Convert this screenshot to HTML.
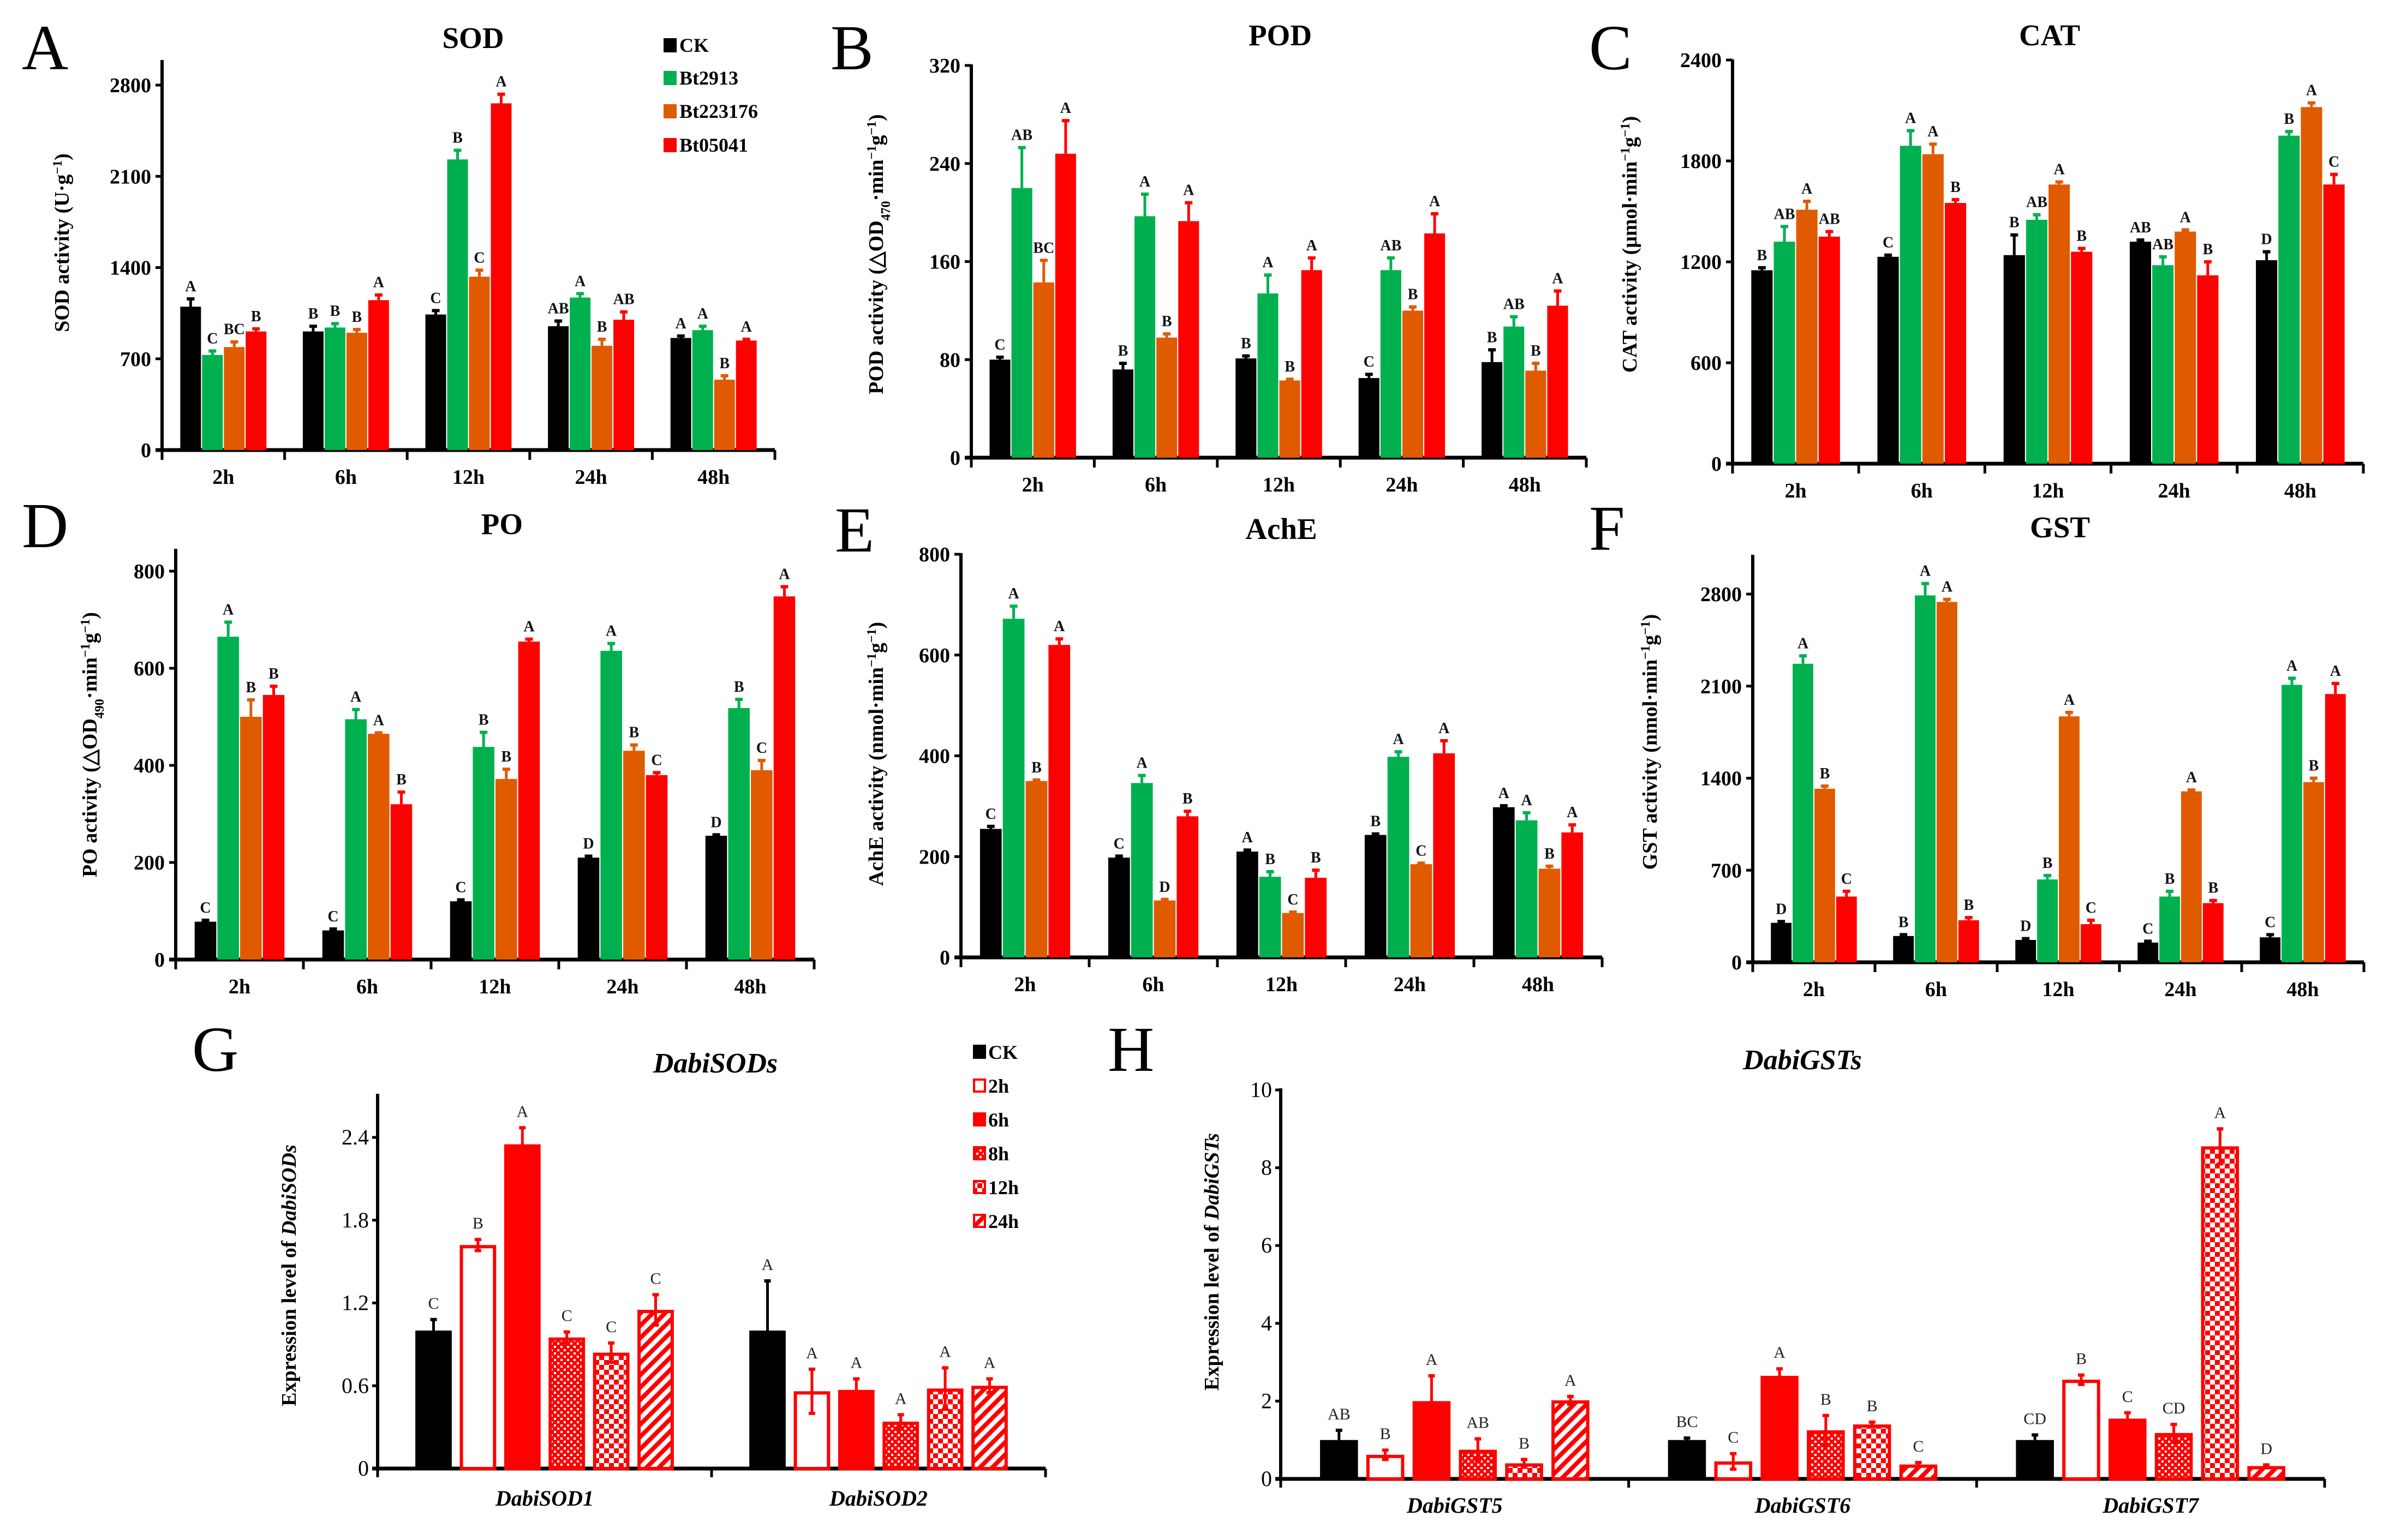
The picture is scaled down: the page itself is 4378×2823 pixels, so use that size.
<!DOCTYPE html>
<html><head><meta charset="utf-8"><style>
html,body{margin:0;padding:0;background:#fff;}
svg{display:block;}
text{font-family:"Liberation Serif",serif;font-weight:bold;}
</style></head><body>
<svg id="fig" width="4378" height="2823" viewBox="0 0 4378 2823" xmlns="http://www.w3.org/2000/svg">
<defs>
<pattern id="pDots" width="12" height="12" patternUnits="userSpaceOnUse"><rect width="12" height="12" fill="#f00"/><rect x="1" y="1" width="4" height="4" fill="#fff"/><rect x="7" y="7" width="4" height="4" fill="#fff"/></pattern>
<pattern id="pCheck" width="18" height="18" patternUnits="userSpaceOnUse"><rect width="18" height="18" fill="#fff"/><rect width="9" height="9" fill="#f00"/><rect x="9" y="9" width="9" height="9" fill="#f00"/></pattern>
<pattern id="pStripe" width="16" height="16" patternUnits="userSpaceOnUse" patternTransform="rotate(45)"><rect width="16" height="16" fill="#fff"/><rect width="8" height="16" fill="#f00"/></pattern>
</defs>
</svg>
<script>
// ---- Data arrays (top level) ----
const timeCats = ["2h","6h","12h","24h","48h"];
const strainNames = ["CK","Bt2913","Bt223176","Bt05041"];
const sodVals = [[1100,730,790,910],[910,940,900,1150],[1040,2230,1330,2660],[950,1170,800,1000],[860,920,540,840]];
const sodErr = [[60,30,40,20],[40,30,25,40],[30,70,50,70],[40,30,50,60],[15,30,30,10]];
const sodLet = [["A","C","BC","B"],["B","B","B","A"],["C","B","C","A"],["AB","A","B","AB"],["A","A","B","A"]];
const sodTicks = [0,700,1400,2100,2800];
const podVals = [[80,220,143,248],[72,197,98,193],[81,134,63,153],[65,153,120,183],[78,107,71,124]];
const podErr = [[2,33,18,27],[5,18,3,15],[2,15,1,10],[3,10,3,16],[10,8,6,12]];
const podLet = [["C","AB","BC","A"],["B","A","B","A"],["B","A","B","A"],["C","AB","B","A"],["B","AB","B","A"]];
const podTicks = [0,80,160,240,320];
const catVals = [[1150,1320,1510,1350],[1230,1890,1840,1550],[1240,1450,1660,1260],[1320,1180,1380,1120],[1210,1950,2120,1660]];
const catErr = [[15,90,50,30],[10,90,60,20],[120,30,15,20],[10,50,10,80],[50,25,25,60]];
const catLet = [["B","AB","A","AB"],["C","A","A","B"],["B","AB","A","B"],["AB","AB","A","B"],["D","B","A","C"]];
const catTicks = [0,600,1200,1800,2400];
const poVals = [[78,665,500,545],[60,495,465,320],[120,438,372,655],[210,636,430,380],[255,518,390,748]];
const poErr = [[3,30,35,18],[3,20,2,25],[3,30,20,5],[3,15,12,5],[2,18,20,20]];
const poLet = [["C","A","B","B"],["C","A","A","B"],["C","B","B","A"],["D","A","B","C"],["D","B","C","A"]];
const poTicks = [0,200,400,600,800];
const acheVals = [[255,672,350,620],[198,346,113,280],[210,160,88,158],[243,398,185,405],[298,272,176,248]];
const acheErr = [[5,25,2,12],[3,15,2,10],[3,10,2,15],[2,10,2,25],[3,15,5,15]];
const acheLet = [["C","A","B","A"],["C","A","D","B"],["A","B","C","B"],["B","A","C","A"],["A","A","B","A"]];
const acheTicks = [0,200,400,600,800];
const gstVals = [[300,2270,1320,500],[200,2790,2740,320],[170,630,1870,290],[150,500,1300,450],[190,2110,1370,2040]];
const gstErr = [[10,60,20,40],[10,90,20,20],[10,30,30,30],[10,40,10,20],[20,50,30,80]];
const gstLet = [["D","A","B","C"],["B","A","A","B"],["D","B","A","C"],["C","B","A","B"],["C","A","B","A"]];
const gstTicks = [0,700,1400,2100,2800];
const exprSeries = ["CK","2h","6h","8h","12h","24h"];
const sodGenes = ["DabiSOD1","DabiSOD2"];
const sodExpr = [[1.0,1.62,2.35,0.95,0.84,1.15],[1.0,0.56,0.57,0.34,0.58,0.60]];
const sodExprErr = [[0.08,0.04,0.12,0.04,0.07,0.11],[0.36,0.16,0.08,0.05,0.15,0.05]];
const sodExprLet = [["C","B","A","C","C","C"],["A","A","A","A","A","A"]];
const sodExprTicks = ["0","0.6","1.2","1.8","2.4"];
const gstGenes = ["DabiGST5","DabiGST6","DabiGST7"];
const gstExpr = [[1.0,0.62,2.0,0.75,0.40,2.02],[1.0,0.45,2.65,1.25,1.40,0.37],[1.0,2.55,1.55,1.18,8.55,0.33]];
const gstExprErr = [[0.25,0.12,0.65,0.28,0.10,0.10],[0.05,0.20,0.18,0.38,0.06,0.05],[0.13,0.12,0.15,0.22,0.45,0.03]];
const gstExprLet = [["AB","B","A","AB","B","A"],["BC","C","A","B","B","C"],["CD","B","C","CD","A","D"]];
const gstExprTicks = ["0","2","4","6","8","10"];

const NS="http://www.w3.org/2000/svg";
const svg=document.getElementById('fig');
const strainColors=["#000000","#00b04f","#e05a00","#ff0000"];
const seriesFill=["#000","#fff","#f00","url(#pDots)","url(#pCheck)","url(#pStripe)"];
function mk(tag,attrs,parent){const e=document.createElementNS(NS,tag);for(const k in attrs)e.setAttribute(k,attrs[k]);(parent||svg).appendChild(e);return e;}
function txt(s,attrs,parent){const e=mk('text',attrs,parent);e.textContent=s;return e;}

function panelLetter(ch,x,y){
  const t=txt(ch,{x:x,y:y,'font-size':118,'style':'font-weight:normal'});
  
  
}

function activityChart(o){
  const g=mk('g',{});
  
  
  const max=o.ticks[o.ticks.length-1];
  const yS=v=>o.y0-(v/max)*(o.y0-o.yTop);
  const cw=(o.x1-o.x0)/o.cats.length;
  const ya=mk('line',{x1:o.x0,y1:o.axisTop,x2:o.x0,y2:o.y0+3,stroke:'#000','stroke-width':6},g);
  
  
  const xa=mk('line',{x1:o.x0-12,y1:o.y0,x2:o.x1,y2:o.y0,stroke:'#000','stroke-width':7},g);
  
  
  o.ticks.forEach(t=>{
    const y=yS(t);
    mk('line',{x1:o.x0-12,y1:y,x2:o.x0,y2:y,stroke:'#000','stroke-width':5},g);
    const tl=txt(String(t),{x:o.x0-20,y:y+13,'font-size':38,'text-anchor':'end'},g);
    
    
  });
  for(let i=0;i<=o.cats.length;i++){const x=o.x0+i*cw;mk('line',{x1:x,y1:o.y0,x2:x,y2:o.y0+18,stroke:'#000','stroke-width':5},g);}
  o.cats.forEach((c,i)=>{
    const cx=o.x0+(i+0.5)*cw;
    const xl=txt(c,{x:cx,y:o.y0+62,'font-size':38,'text-anchor':'middle'},g);
    
    
    const p=cw*0.178,bw=p*0.95;
    o.vals[i].forEach((v,j)=>{
      const bx=cx-2*p+j*p+(p-bw)/2;
      const top=yS(v);
      const r=mk('rect',{x:bx,y:top,width:bw,height:o.y0-top,fill:strainColors[j]},g);
      
      
      const ex=bx+bw/2,ey=yS(v+o.err[i][j]);
      mk('line',{x1:ex,y1:top,x2:ex,y2:ey,stroke:strainColors[j],'stroke-width':5},g);
      mk('line',{x1:ex-7,y1:ey,x2:ex+7,y2:ey,stroke:strainColors[j],'stroke-width':6},g);
      const lt=txt(o.lets[i][j],{x:ex,y:ey-14,'font-size':28,'text-anchor':'middle',fill:'#111'},g);
      
      
    });
  });
  const tt=txt(o.title,{x:o.tx,y:o.ty,'font-size':55,'text-anchor':'middle'},g);
  
  
  const yl=mk('text',{transform:`translate(${o.lx},${o.ly}) rotate(-90)`,'font-size':38,'text-anchor':'middle'},g);
  yl.innerHTML=o.ylab;
  
  
}

function exprChart(o){
  const g=mk('g',{});
  
  
  const max=parseFloat(o.ticks[o.ticks.length-1]);
  const yS=v=>o.y0-(v/max)*(o.y0-o.yTop);
  const cw=(o.x1-o.x0)/o.cats.length;
  const ya=mk('line',{x1:o.x0,y1:o.axisTop,x2:o.x0,y2:o.y0+3,stroke:'#000','stroke-width':6},g);
  
  
  const xa=mk('line',{x1:o.x0-10,y1:o.y0,x2:o.x1,y2:o.y0,stroke:'#000','stroke-width':7},g);
  
  
  o.ticks.forEach(t=>{
    const y=yS(parseFloat(t));
    mk('line',{x1:o.x0-10,y1:y,x2:o.x0,y2:y,stroke:'#000','stroke-width':5},g);
    const tl=txt(t,{x:o.x0-16,y:y+13,'font-size':40,'text-anchor':'end',style:'font-weight:normal'},g);
    
    
  });
  for(let i=0;i<=o.cats.length;i++){const x=o.x0+i*cw;mk('line',{x1:x,y1:o.y0,x2:x,y2:o.y0+16,stroke:'#000','stroke-width':5},g);}
  o.cats.forEach((c,i)=>{
    const cx=o.x0+(i+0.5)*cw;
    const xl=txt(c,{x:cx,y:o.y0+o.labOff,'font-size':40,'font-style':'italic','text-anchor':'middle'},g);
    
    
    const p=cw*0.133,bw=p*0.82;
    o.vals[i].forEach((v,j)=>{
      const bx=cx-3*p+j*p+(p-bw)/2;
      const top=yS(v);
      const col=j===0?'#000':'#f00';
      const r=mk('rect',{x:bx+3,y:top+3,width:bw-6,height:o.y0-top-3,fill:seriesFill[j],stroke:col,'stroke-width':6},g);
      
      
      const ex=bx+bw/2,eh=yS(v+o.err[i][j]),el=yS(v-o.err[i][j]);
      mk('line',{x1:ex,y1:el,x2:ex,y2:eh,stroke:col,'stroke-width':5},g);
      mk('line',{x1:ex-6,y1:eh,x2:ex+6,y2:eh,stroke:col,'stroke-width':6},g);
      mk('line',{x1:ex-6,y1:el,x2:ex+6,y2:el,stroke:col,'stroke-width':6},g);
      const lt=txt(o.lets[i][j],{x:ex,y:eh-20,'font-size':30,style:'font-weight:normal','text-anchor':'middle',fill:'#222'},g);
      
      
    });
  });
  const tt=txt(o.title,{x:o.tx,y:o.ty,'font-size':52,'font-style':'italic','text-anchor':'middle'},g);
  
  
  const yl=mk('text',{transform:`translate(${o.lx},${o.ly}) rotate(-90)`,'font-size':38,'text-anchor':'middle'},g);
  yl.innerHTML=o.ylab;
  
  
}

panelLetter('A',40,127);panelLetter('B',1522,127);panelLetter('C',2912,127);
panelLetter('D',40,1003);panelLetter('E',1530,1011);panelLetter('F',2912,1008);
panelLetter('G',352,1963);panelLetter('H',2030,1963);

activityChart({name:'sod',title:'SOD',cats:timeCats,vals:sodVals,err:sodErr,lets:sodLet,ticks:sodTicks,x0:297,x1:1420,y0:825,yTop:156,axisTop:110,tx:867,ty:88,lx:126,ly:445,ylab:'SOD activity (U·g<tspan baseline-shift="super" font-size="24">−1</tspan>)'});
activityChart({name:'pod',title:'POD',cats:timeCats,vals:podVals,err:podErr,lets:podLet,ticks:podTicks,x0:1780,x1:2907,y0:839,yTop:120,axisTop:118,tx:2346,ty:83,lx:1618,ly:466,ylab:'POD activity (△OD<tspan baseline-shift="sub" font-size="24">470</tspan>·min<tspan baseline-shift="super" font-size="24">−1</tspan>g<tspan baseline-shift="super" font-size="24">−1</tspan>)'});
activityChart({name:'cat',title:'CAT',cats:timeCats,vals:catVals,err:catErr,lets:catLet,ticks:catTicks,x0:3175,x1:4331,y0:850,yTop:110,axisTop:109,tx:3756,ty:83,lx:2999,ly:448,ylab:'CAT activity (μmol·min<tspan baseline-shift="super" font-size="24">−1</tspan>g<tspan baseline-shift="super" font-size="24">−1</tspan>)'});
activityChart({name:'po',title:'PO',cats:timeCats,vals:poVals,err:poErr,lets:poLet,ticks:poTicks,x0:322,x1:1492,y0:1759,yTop:1047,axisTop:1006,tx:920,ty:979,lx:177,ly:1365,ylab:'PO activity (△OD<tspan baseline-shift="sub" font-size="24">490</tspan>·min<tspan baseline-shift="super" font-size="24">−1</tspan>g<tspan baseline-shift="super" font-size="24">−1</tspan>)'});
activityChart({name:'ache',title:'AchE',cats:timeCats,vals:acheVals,err:acheErr,lets:acheLet,ticks:acheTicks,x0:1761,x1:2936,y0:1755,yTop:1016,axisTop:1014,tx:2348,ty:988,lx:1618,ly:1382,ylab:'AchE activity (nmol·min<tspan baseline-shift="super" font-size="24">−1</tspan>g<tspan baseline-shift="super" font-size="24">−1</tspan>)'});
activityChart({name:'gst',title:'GST',cats:timeCats,vals:gstVals,err:gstErr,lets:gstLet,ticks:gstTicks,x0:3212,x1:4332,y0:1764,yTop:1089,axisTop:1017,tx:3775,ty:985,lx:3036,ly:1360,ylab:'GST activity (nmol·min<tspan baseline-shift="super" font-size="24">−1</tspan>g<tspan baseline-shift="super" font-size="24">−1</tspan>)'});

exprChart({name:'dabisods',title:'DabiSODs',cats:sodGenes,vals:sodExpr,err:sodExprErr,lets:sodExprLet,ticks:sodExprTicks,x0:692,x1:1916,y0:2692,yTop:2085,axisTop:2005,labOff:68,tx:1311,ty:1966,lx:542,ly:2338,ylab:'Expression level of <tspan font-style="italic">DabiSODs</tspan>'});
exprChart({name:'dabigsts',title:'DabiGSTs',cats:gstGenes,vals:gstExpr,err:gstExprErr,lets:gstExprLet,ticks:gstExprTicks,x0:2347,x1:4260,y0:2711,yTop:1998,axisTop:1995,labOff:62,tx:3303,ty:1960,lx:2233,ly:2313,ylab:'Expression level of <tspan font-style="italic">DabiGSTs</tspan>'});

strainNames.forEach((s,i)=>{
  const y=[83,143,204,266][i];
  const r=mk('rect',{x:1216,y:y-13,width:24,height:26,fill:strainColors[i]});
  
  
  const t=txt(s,{x:1245,y:y+12,'font-size':36});
  
  
});
exprSeries.forEach((s,i)=>{
  const y=1928+i*62;
  const col=i===0?'#000':'#f00';
  const r=mk('rect',{x:1785,y:y-11,width:20,height:22,fill:seriesFill[i],stroke:col,'stroke-width':4});
  
  
  const t=txt(s,{x:1811,y:y+13,'font-size':36});
  
  
});
</script>
</body></html>
